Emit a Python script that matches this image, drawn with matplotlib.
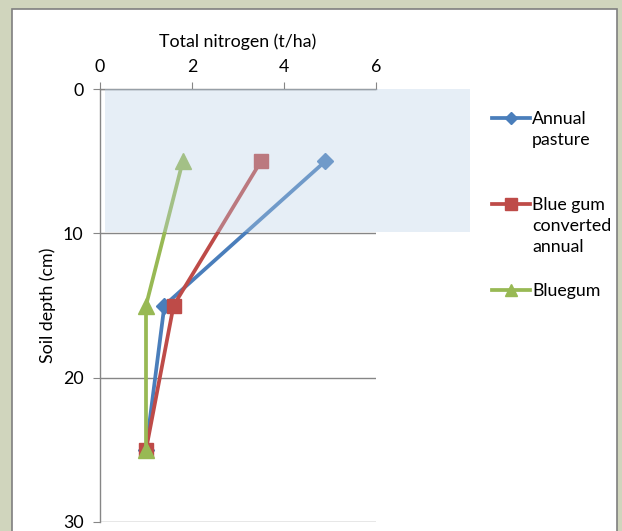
import matplotlib
matplotlib.use("Agg")
import matplotlib.pyplot as plt
from matplotlib.patches import Rectangle
from matplotlib.lines import Line2D

plt.rcParams['font.family'] = ['Lato', 'DejaVu Sans']

depth = [5, 15, 25]
annual_pasture = [4.9, 1.4, 1.0]
bluegum_converted = [3.5, 1.6, 1.0]
bluegum = [1.8, 1.0, 1.0]
series_names = ["Annual\npasture", "Blue gum\nconverted\nannual", "Bluegum"]
x_ticks = [0, 2, 4, 6]
y_ticks = [0, 10, 20, 30]

W, H = 622, 531
FS = 12.8
fig = plt.figure(figsize=(W / 100, H / 100), dpi=100)
fig.patch.set_facecolor('#d0d5bd')
fig.add_artist(Rectangle((12 / W, -0.01), (617 - 12) / W, 1 - 9 / H + 0.01,
                         transform=fig.transFigure, facecolor='white',
                         edgecolor='#7f7f7f', lw=1.2, zorder=0))

ax = fig.add_axes([100 / W, 1 - 522 / H, 276 / W, (522 - 89) / H])
ax.set_facecolor('none')
ax.set_xlim(0, 6)
ax.set_ylim(30, 0)

colors = ['#4a7ebb', '#be4b48', '#98b954']
markers = ['D', 's', '^']
msizes = [8, 10, 11]
data = [annual_pasture, bluegum_converted, bluegum]
for vals, c, m, ms in zip(data, colors, markers, msizes):
    ax.plot(vals, depth, color=c, lw=2.7, marker=m, ms=ms, zorder=3, clip_on=False)

# shaded band overlay
ax.add_patch(Rectangle((0.1, 0), 7.95, 9.9, facecolor='#b8cfe6', alpha=0.35,
                       edgecolor='none', zorder=4, clip_on=False))

ax.xaxis.tick_top()
ax.xaxis.set_label_position('top')
ax.set_xticks(x_ticks)
ax.set_yticks(y_ticks)
ax.tick_params(axis='x', direction='out', length=5, color='#868686', labelsize=FS, pad=5, labelcolor='black')
ax.tick_params(axis='y', direction='out', length=5, color='#868686', labelsize=FS, pad=7, labelcolor='black')
for s in ['right', 'bottom']:
    ax.spines[s].set_visible(False)
for s in ['top', 'left']:
    ax.spines[s].set_color('#868686')
    ax.spines[s].set_linewidth(1.0)
ax.yaxis.grid(True, color='#868686', lw=1.0)
ax.set_axisbelow(True)
ax.set_xlabel('Total nitrogen (t/ha)', fontsize=FS, labelpad=9)
ax.set_ylabel('Soil depth (cm)', fontsize=FS, labelpad=5)

# legend drawn manually
leg_y = [118, 204, 290]
for name, c, m, ms, yy in zip(series_names, colors, markers, msizes, leg_y):
    yf = 1 - yy / H
    fig.add_artist(Line2D([492 / W, 530 / W], [yf, yf], transform=fig.transFigure,
                          color=c, lw=2.7, marker=None))
    fig.add_artist(Line2D([511 / W], [yf], transform=fig.transFigure,
                          color=c, marker=m, ms=ms * 0.8, lw=0))
    fig.text(532 / W, yf + 7 / H, name, fontsize=FS, va='top', ha='left', linespacing=1.4)

fig.savefig('out.png', dpi=100, facecolor=fig.get_facecolor())
